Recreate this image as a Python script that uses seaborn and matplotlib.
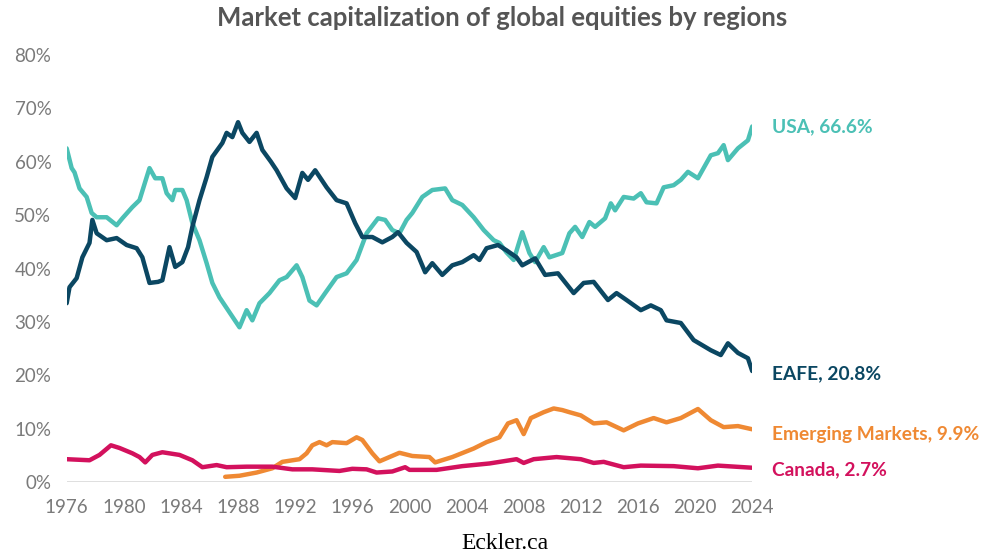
import pandas as pd
import seaborn as sns
from matplotlib import pyplot as plt

# values (share of world equity market cap, %)
usa_years = [1976.0, 1976.35, 1976.55, 1976.9, 1977.4, 1977.75, 1978.1, 1978.8, 1979.5, 1979.9,
             1980.6, 1981.1, 1981.6, 1981.8, 1982.2, 1982.7, 1983.0, 1983.4, 1983.6, 1984.1,
             1984.4, 1984.8, 1985.3, 1985.8, 1986.2, 1986.7, 1987.3, 1987.9, 1988.1, 1988.6,
             1989.0, 1989.5, 1990.2, 1990.9, 1991.4, 1992.1, 1992.5, 1993.0, 1993.5, 1994.1,
             1994.9, 1995.6, 1996.3, 1997.0, 1997.8, 1998.3, 1998.8, 1999.3, 1999.8, 2000.2,
             2000.9, 2001.6, 2002.5, 2003.0, 2003.7, 2004.5, 2005.2, 2005.9, 2006.3, 2006.8,
             2007.3, 2007.9, 2008.4, 2008.8, 2009.4, 2009.8, 2010.7, 2011.2, 2011.6, 2012.1,
             2012.6, 2013.0, 2013.7, 2014.1, 2014.4, 2015.0, 2015.7, 2016.2, 2016.6, 2017.3,
             2017.8, 2018.5, 2019.0, 2019.5, 2020.2, 2021.1, 2021.6, 2022.0, 2022.3, 2023.0,
             2023.7, 2024.0]
usa_vals = [62.5, 58.8, 58.0, 55.0, 53.4, 50.4, 49.6, 49.6, 48.1, 49.4,
            51.5, 52.8, 57.1, 58.8, 56.9, 56.9, 54.1, 52.8, 54.7, 54.7,
            52.8, 48.5, 45.3, 41.0, 37.3, 34.6, 32.2, 29.8, 29.0, 32.2,
            30.3, 33.5, 35.4, 37.8, 38.4, 40.6, 38.4, 34.0, 33.1, 35.4,
            38.4, 39.1, 41.6, 46.6, 49.4, 49.1, 47.2, 46.6, 49.1, 50.4,
            53.4, 54.7, 55.0, 52.8, 51.9, 49.6, 47.2, 45.3, 44.8, 43.0,
            41.6, 46.8, 42.9, 41.2, 44.0, 42.1, 42.9, 46.6, 47.8, 45.9,
            48.7, 47.8, 49.4, 52.2, 50.9, 53.4, 53.1, 54.1, 52.4, 52.2,
            55.2, 55.6, 56.6, 58.1, 56.9, 61.2, 61.6, 63.1, 60.3, 62.5,
            64.0, 66.6]

eafe_years = [1976.0, 1976.2, 1976.7, 1977.1, 1977.6, 1977.8, 1978.1, 1978.8, 1979.5, 1980.2,
              1980.9, 1981.3, 1981.8, 1982.4, 1982.7, 1983.2, 1983.6, 1984.1, 1984.5, 1984.8,
              1985.3, 1985.8, 1986.2, 1986.9, 1987.2, 1987.6, 1988.0, 1988.3, 1988.8, 1989.3,
              1989.7, 1990.3, 1990.7, 1991.4, 1992.0, 1992.5, 1992.9, 1993.4, 1994.2, 1994.9,
              1995.6, 1996.2, 1996.7, 1997.4, 1998.1, 1998.8, 1999.2, 1999.8, 2000.5, 2001.1,
              2001.6, 2002.3, 2003.0, 2003.7, 2004.5, 2004.9, 2005.4, 2006.2, 2006.8, 2007.5,
              2007.9, 2008.8, 2009.5, 2010.4, 2011.5, 2012.2, 2012.9, 2013.9, 2014.5, 2015.2,
              2016.2, 2016.9, 2017.6, 2018.0, 2019.0, 2019.9, 2021.1, 2021.8, 2022.3, 2023.0,
              2023.7, 2024.0]
eafe_vals = [33.5, 36.5, 38.2, 42.1, 44.8, 49.1, 46.6, 45.3, 45.7, 44.4,
             43.8, 42.1, 37.3, 37.5, 37.8, 44.0, 40.3, 41.2, 44.0, 47.8,
             52.8, 57.1, 60.9, 63.5, 65.4, 64.6, 67.4, 65.4, 63.7, 65.4,
             62.2, 60.0, 58.4, 55.0, 53.2, 57.9, 56.6, 58.4, 55.2, 52.8,
             52.2, 48.5, 45.9, 45.9, 44.9, 45.9, 46.8, 44.8, 43.1, 39.3,
             41.0, 38.8, 40.6, 41.2, 42.5, 41.6, 43.8, 44.4, 43.4, 42.1,
             40.6, 41.9, 38.8, 39.1, 35.4, 37.3, 37.5, 34.1, 35.4, 34.1,
             32.2, 33.1, 32.2, 30.3, 29.8, 26.6, 24.7, 23.8, 26.0, 24.2,
             23.2, 20.8]

em_years = [1987.1, 1988.1, 1989.3, 1990.4, 1991.1, 1992.3, 1992.8, 1993.2, 1993.7, 1994.2,
            1994.6, 1995.6, 1996.3, 1996.7, 1997.4, 1997.9, 1998.6, 1999.3, 2000.2, 2001.4,
            2001.8, 2003.0, 2004.5, 2005.4, 2006.3, 2006.9, 2007.5, 2008.0, 2008.5, 2009.4,
            2010.1, 2010.7, 2011.2, 2012.0, 2012.9, 2013.8, 2015.0, 2016.0, 2017.1, 2018.0,
            2019.0, 2020.2, 2021.1, 2022.0, 2023.0, 2024.0]
em_vals = [1.0, 1.2, 1.8, 2.6, 3.8, 4.3, 5.4, 6.9, 7.5, 6.9,
           7.5, 7.3, 8.4, 7.9, 5.4, 3.9, 4.7, 5.5, 4.9, 4.7,
           3.7, 4.7, 6.3, 7.5, 8.4, 11.0, 11.6, 9.0, 12.0, 13.1,
           13.8, 13.5, 13.1, 12.5, 11.0, 11.2, 9.7, 11.0, 12.0, 11.2,
           12.0, 13.7, 11.6, 10.3, 10.5, 9.9]

canada_years = [1976.0, 1977.6, 1978.3, 1979.1, 1979.7, 1980.6, 1981.1, 1981.5, 1982.0, 1982.7,
                1983.9, 1984.8, 1985.5, 1986.5, 1987.2, 1988.6, 1990.4, 1991.8, 1993.2, 1995.1,
                1996.0, 1997.0, 1997.7, 1998.8, 1999.7, 2000.0, 2001.9, 2003.7, 2005.6, 2007.5,
                2008.0, 2008.7, 2010.3, 2012.0, 2012.9, 2013.6, 2015.0, 2016.2, 2018.5, 2020.2,
                2021.6, 2024.0]
canada_vals = [4.3, 4.1, 5.1, 6.9, 6.4, 5.4, 4.7, 3.7, 5.1, 5.6,
               5.1, 4.1, 2.8, 3.2, 2.8, 2.9, 2.9, 2.4, 2.4, 2.1,
               2.5, 2.4, 1.8, 2.0, 2.8, 2.3, 2.3, 3.0, 3.5, 4.3,
               3.6, 4.3, 4.7, 4.3, 3.6, 3.8, 2.8, 3.1, 3.0, 2.6,
               3.1, 2.7]

regions = ['USA', 'EAFE', 'Emerging Markets', 'Canada']
colors = {'USA': '#4bc0b5', 'EAFE': '#0b4762', 'Emerging Markets': '#ef8933', 'Canada': '#d3115d'}

frames = []
for name, yrs, vals in [('USA', usa_years, usa_vals), ('EAFE', eafe_years, eafe_vals),
                        ('Emerging Markets', em_years, em_vals), ('Canada', canada_years, canada_vals)]:
    frames.append(pd.DataFrame({'year': yrs, 'share': [v / 100 for v in vals], 'region': name}))
df = pd.concat(frames, ignore_index=True)

sns.set_style('white')
plt.rcParams['font.family'] = ['Lato', 'DejaVu Sans']

fig = plt.figure(figsize=(9.95, 5.6), dpi=100)
ax = fig.add_axes([0.067, 0.139, 0.689, 0.763])

sns.lineplot(data=df, x='year', y='share', hue='region', hue_order=regions, palette=colors,
             estimator=None, linewidth=3.2, legend=False, ax=ax)

ax.set_xlim(1976, 2024)
ax.set_ylim(0, 0.8)
ax.set_xticks(range(1976, 2025, 4))
ax.set_yticks([i / 10 for i in range(9)])
ax.set_yticklabels([f'{i * 10}%' for i in range(9)])
ax.tick_params(axis='both', length=0, labelsize=13.5, labelcolor='#7a7a7a')
ax.tick_params(axis='y', pad=11)
ax.tick_params(axis='x', pad=12)
ax.set_xlabel('')
ax.set_ylabel('')
for s in ax.spines.values():
    s.set_visible(False)
ax.axhline(0, color='#d9d9d9', lw=1.2, zorder=0)

# end labels
for name in regions:
    last = df[df['region'] == name].iloc[-1]
    offset = {'USA': -0.001, 'EAFE': -0.005, 'Emerging Markets': -0.01, 'Canada': -0.003}[name]
    ax.text(2025.4, last['share'] + offset, f"{name}, {last['share'] * 100:.1f}%",
            color=colors[name], fontsize=13.8, fontweight='bold', va='center', ha='left')

fig.text(0.505, 0.967, 'Market capitalization of global equities by regions', ha='center', va='center',
         fontsize=18.5, fontweight='bold', color='#555555')
fig.text(0.507, 0.03, 'Eckler.ca', ha='center', va='center', fontsize=17,
         family=['Liberation Serif', 'DejaVu Serif'], color='black')

fig.savefig('out.png', dpi=100)
